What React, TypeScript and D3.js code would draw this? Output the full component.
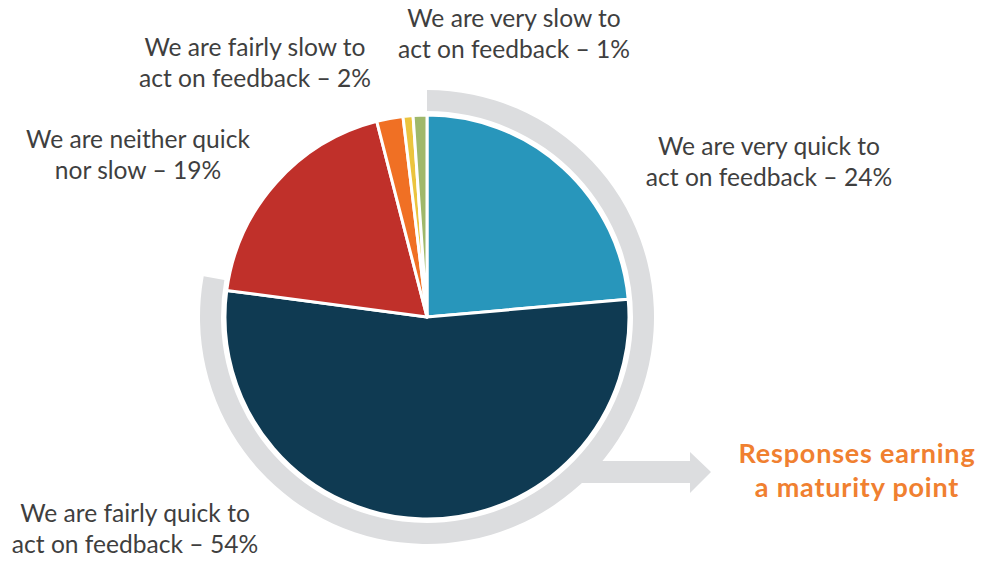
import React from "react";
import * as d3 from "d3";

const categories = [
  "We are very quick to act on feedback",
  "We are fairly quick to act on feedback",
  "We are neither quick nor slow",
  "We are fairly slow to act on feedback",
  "We are very slow to act on feedback",
  "Other",
];
const values = [23.6, 53.5, 18.9, 2.1, 0.8, 1.1];
const colors = ["#2896bb", "#0f3a52", "#c0302a", "#f07024", "#ebc43e", "#9fb86b"];

const labelLines = [
  ["We are very quick to", "act on feedback – 24%"],
  ["We are fairly quick to", "act on feedback – 54%"],
  ["We are neither quick", "nor slow – 19%"],
  ["We are fairly slow to", "act on feedback – 2%"],
  ["We are very slow to", "act on feedback – 1%"],
];
const labelPos: [number, number][] = [
  [769, 155],
  [135, 522],
  [138, 148],
  [255, 56],
  [514, 27],
];
const calloutLines = ["Responses earning", "a maturity point"];

export default function App() {
  const W = 982, H = 562;
  const cx = 427, cy = 317, R = 202;
  const pie = d3.pie<number>().sort(null).startAngle(0).endAngle(2 * Math.PI);
  const arcs = pie(values);
  const arcGen = d3.arc<d3.PieArcDatum<number>>().innerRadius(0).outerRadius(R);
  const maturityEnd = (arcs[1].endAngle) + (2.8 * Math.PI) / 180;
  const band = d3.arc()({ innerRadius: 206, outerRadius: 227, startAngle: 0, endAngle: maturityEnd } as any) || "";
  const font = "Lato, 'Source Sans Pro', sans-serif";
  return (
    <svg width={W} height={H} style={{ position: "absolute", left: 0, top: 0 }}>
      <rect width={W} height={H} fill="#fff" />
      <g transform={`translate(${cx},${cy})`}>
        <path d={band} fill="#dcdddf" />
      </g>
      <path
        d={`M580,461 L690,461 L690,452 L711,472 L690,493 L690,483 L580,483 Z`}
        fill="#dcdddf"
      />
      <g transform={`translate(${cx},${cy})`}>
        {arcs.map((a, i) => (
          <path key={i} d={arcGen(a) || ""} fill={colors[i]} stroke="#fff" strokeWidth={3} strokeLinejoin="round" />
        ))}
      </g>
      {labelLines.map((lines, i) => (
        <text key={i} x={labelPos[i][0]} y={labelPos[i][1]} textAnchor="middle" fontFamily={font} fontSize={24.6} fill="#3f3f3f">
          {lines.map((l, j) => (
            <tspan key={j} x={labelPos[i][0]} dy={j === 0 ? 0 : 31}>{l}</tspan>
          ))}
        </text>
      ))}
      <text x={857} y={463} textAnchor="middle" fontFamily={font} fontSize={27} fontWeight="bold" fill="#f08030" letterSpacing={0.8}>
        {calloutLines.map((l, j) => (
          <tspan key={j} x={857} dy={j === 0 ? 0 : 34}>{l}</tspan>
        ))}
      </text>
    </svg>
  );
}
